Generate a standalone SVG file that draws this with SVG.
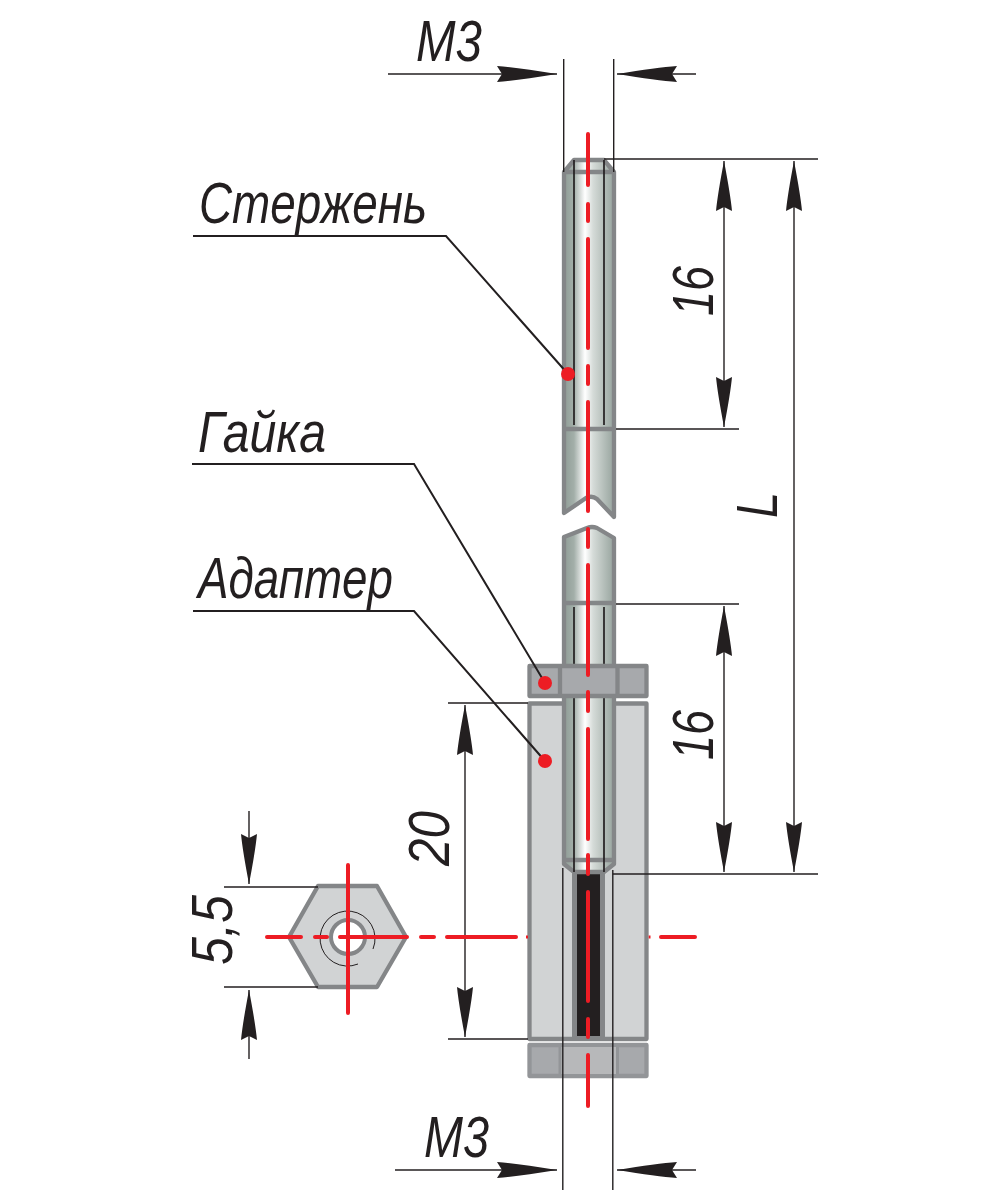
<svg xmlns="http://www.w3.org/2000/svg" width="1000" height="1200" viewBox="0 0 1000 1200">
<defs>
<linearGradient id="rod" x1="0" x2="1" y1="0" y2="0">
<stop offset="0" stop-color="#8f9c96"/><stop offset="0.2" stop-color="#a3afa9"/><stop offset="0.42" stop-color="#ffffff"/><stop offset="0.58" stop-color="#d5dbd8"/><stop offset="1" stop-color="#97a49e"/>
</linearGradient>
<marker id="a" viewBox="0 0 50 16" refX="50" refY="8" markerUnits="userSpaceOnUse" markerWidth="50" markerHeight="16" orient="auto-start-reverse"><path d="M0 0Q16 1.500 50 8Q16 14.500 0 16L4 8Z" fill="#231f20"/></marker>
<marker id="h" viewBox="0 0 60 16" refX="60" refY="8" markerUnits="userSpaceOnUse" markerWidth="60" markerHeight="16" orient="auto"><path d="M0 0Q20 1.500 60 8Q20 14.500 0 16L5 8Z" fill="#231f20"/></marker>
</defs>
<style>
.t{font-family:"Liberation Sans",Arial,sans-serif;font-style:italic;fill:#231f20;font-size:57px}
.d{stroke:#231f20;stroke-width:1.4;fill:none}
.g{stroke:#848688;stroke-width:4.300;stroke-linejoin:round}
.r{stroke:#ed1c24;stroke-width:4;stroke-linecap:round;fill:none}
.b{stroke:#231f20;stroke-width:1.7;fill:none}
.l{stroke:#231f20;stroke-width:2;fill:none}
</style>
<rect width="1000" height="1200" fill="#fff"/>
<g id="adapter">
<rect class="g" x="529.500" y="703.500" width="117" height="335.500" fill="#d1d3d4"/>
<rect x="574.500" y="871.500" width="28" height="167" fill="#231f20" stroke="#848688" stroke-width="5"/>
</g>
<g id="rod-top">
<path class="g" d="M564 172L574 160H604L614 172V517L597 499Q592 495 586 498L564 513Z" fill="url(#rod)"/>
<path class="g" d="M564 172H614M564 429H614" fill="none"/>
<path class="b" d="M574 160V425M604 160V425"/>
</g>
<g id="rod-bottom">
<path class="g" d="M564 705V537L587 528Q592 526 597 528L614 538V864L604 872H574L564 864Z" fill="url(#rod)" stroke-linejoin="round"/>
<path class="g" d="M564 603H614M564 860H614" fill="none"/>
<path class="b" d="M574 607V872M604 607V872"/>
</g>
<g id="nut-top">
<rect class="g" x="529.500" y="666" width="117" height="30" fill="#a7a9ac"/>
<path class="g" d="M560 666V696M617.500 666V696" fill="none"/>
</g>
<g id="nut-bottom">
<rect x="529.500" y="1045" width="117" height="31" fill="#a7a9ac" stroke="#939598" stroke-width="4.300" stroke-linejoin="round"/>
<rect x="560" y="1047" width="57.500" height="27" fill="#b7b8ba"/>
<path d="M560 1045V1076M617.500 1045V1076" fill="none" stroke="#939598" stroke-width="3"/>
</g>
<g id="hex">
<path class="g" d="M318 886H377L406 937L377 987H318L289 937Z" fill="#d1d3d4"/>
<circle cx="348" cy="937" r="17" fill="#fff" stroke="#848688" stroke-width="4"/>
<path class="b" style="stroke-width:1" d="M373 949A27.500 27.500 0 1 0 358 964"/>
</g>
<g id="connectors">
<path class="d" d="M563.700 59V172M613.700 59V172M562.800 868V1190M612.800 870V1190"/>
<path class="d" d="M388 74H557" marker-end="url(#h)"/>
<path class="d" d="M696 74H617" marker-end="url(#h)"/>
<path class="d" d="M395 1170H557" marker-end="url(#h)"/>
<path class="d" d="M696 1170H617" marker-end="url(#h)"/>
<path class="d" d="M604 159H818M616 429H739M616 604H739M612.800 874H818M448 703H528M448 1039H528M224 887H318M224 987H318"/>
<path class="d" d="M724 161V427" marker-start="url(#a)" marker-end="url(#a)"/>
<path class="d" d="M724 606V872" marker-start="url(#a)" marker-end="url(#a)"/>
<path class="d" d="M794 161V872" marker-start="url(#a)" marker-end="url(#a)"/>
<path class="d" d="M465 705V1037" marker-start="url(#a)" marker-end="url(#a)"/>
<path class="d" d="M249 811V884" marker-end="url(#a)"/>
<path class="d" d="M249 1059V990" marker-end="url(#a)"/>
<path class="l" d="M193 236H446L568 374M192 464H414L545 683M193 611H414L545 761"/>
<path class="r" d="M588 134V185M588 204V221M588 239V348M588 366V384M588 402V511M588 529V547M588 565V675M588 692V711M588 729V839M588 855V874M588 892V1001M588 1019V1037M588 1055V1106"/>
<path class="r" d="M348 865V1013M267 937H301M315 937H327M340 937H407M421 937H434M447 937H516M661 937H695"/>
<path d="M526 937H528M648.700 937H650.500" stroke="#ed1c24" stroke-width="3" fill="none"/>
</g>
<g id="dots" fill="#ed1c24">
<circle cx="568" cy="374" r="7"/><circle cx="545" cy="683" r="7"/><circle cx="545" cy="761" r="7"/>
</g>
<g id="labels">
<text class="t" x="416" y="61" textLength="66" lengthAdjust="spacingAndGlyphs">М3</text>
<text class="t" x="424" y="1157" textLength="65" lengthAdjust="spacingAndGlyphs">М3</text>
<text class="t" x="199" y="223" textLength="228" lengthAdjust="spacingAndGlyphs">Стержень</text>
<text class="t" x="198" y="452" textLength="128" lengthAdjust="spacingAndGlyphs">Гайка</text>
<text class="t" x="198" y="598" textLength="195" lengthAdjust="spacingAndGlyphs">Адаптер</text>
<text class="t" transform="translate(713 316) rotate(-90)" textLength="50" lengthAdjust="spacingAndGlyphs">16</text>
<text class="t" transform="translate(713 760) rotate(-90)" textLength="50" lengthAdjust="spacingAndGlyphs">16</text>
<text class="t" transform="translate(777 518) rotate(-90)" textLength="26" lengthAdjust="spacingAndGlyphs">L</text>
<text class="t" transform="translate(449 866) rotate(-90)" textLength="55" lengthAdjust="spacingAndGlyphs">20</text>
<text class="t" transform="translate(232 965) rotate(-90)" textLength="70" lengthAdjust="spacingAndGlyphs">5,5</text>
</g>
</svg>
